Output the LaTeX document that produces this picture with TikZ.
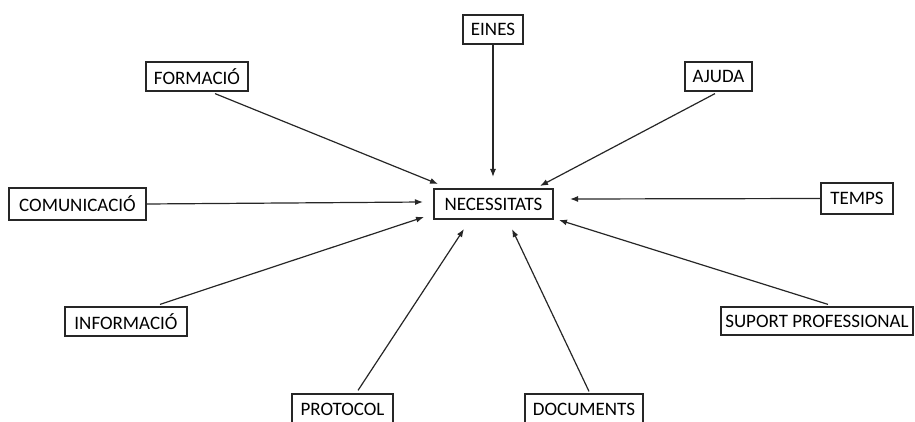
\documentclass[tikz,border=0pt]{standalone}
\usepackage{fontspec}
\setmainfont{Carlito}
\usetikzlibrary{arrows.meta}
\begin{document}
\begin{tikzpicture}[x=1pt,y=-1pt,
  box/.style={draw=black!85,line width=1.2pt,inner sep=0pt,
    font=\fontsize{19}{21}\selectfont,text=black},
  conn/.style={draw=black!85,line width=1.2pt,-{Latex[length=8pt,width=6pt]}}]
\useasboundingbox (0,0) rectangle (915,422);
\clip (0,0) rectangle (915,422);
\node[box,minimum width=60,minimum height=29] (eines) at (493,29.5) {EINES};
\node[box,minimum width=102,minimum height=29] (formacio) at (197,76.5) {FORMACIÓ};
\node[box,minimum width=67,minimum height=29] (ajuda) at (718.5,76.5) {AJUDA};
\node[box,minimum width=119,minimum height=30] (nec) at (493.5,204) {NECESSITATS};
\node[box,minimum width=137,minimum height=32] (comunicacio) at (77.5,204) {COMUNICACIÓ};
\node[box,minimum width=72,minimum height=31] (temps) at (857,198.5) {TEMPS};
\node[box,minimum width=122,minimum height=29] (informacio) at (126,321.5) {INFORMACIÓ};
\node[box,minimum width=192,minimum height=28] (suport) at (817,321) {SUPORT PROFESSIONAL};
\node[box,minimum width=101,minimum height=30] (protocol) at (342.5,409) {PROTOCOL};
\node[box,minimum width=118,minimum height=30] (documents) at (584,409) {DOCUMENTS};
\coordinate (tE) at (493,177);
\coordinate (tF) at (438,184);
\coordinate (tA) at (540,186);
\coordinate (tC) at (423,202);
\coordinate (tT) at (570,199);
\coordinate (tI) at (424,217);
\coordinate (tS) at (559,220);
\coordinate (tP) at (464,229);
\coordinate (tD) at (512,229);
\draw[conn] (eines.south) -- (tE);
\draw[conn] ([xshift=18pt,yshift=-2pt]formacio.south) -- (tF);
\draw[conn] ([xshift=-3.5pt,yshift=-2pt]ajuda.south) -- (tA);
\draw[conn] (comunicacio.east) -- (tC);
\draw[conn] (temps.west) -- (tT);
\draw[conn] ([xshift=34pt,yshift=2pt]informacio.north) -- (tI);
\draw[conn] ([xshift=11pt,yshift=2pt]suport.north) -- (tS);
\draw[conn] ([xshift=15.5pt,yshift=3pt]protocol.north) -- (tP);
\draw[conn] ([xshift=5pt,yshift=2pt]documents.north) -- (tD);
\end{tikzpicture}
\end{document}
